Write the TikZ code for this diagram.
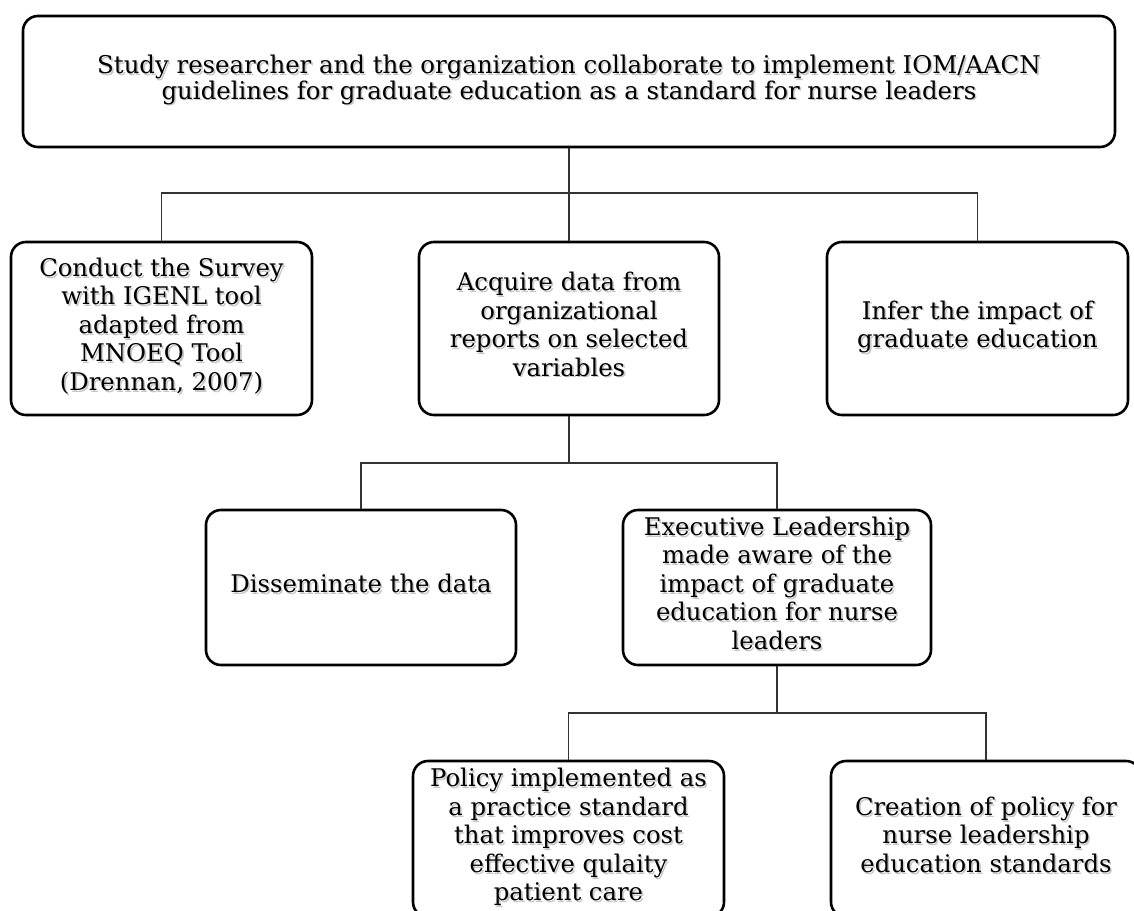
\documentclass[tikz,border=0pt]{standalone}
\usepackage{fontspec}
\setmainfont{DejaVu Serif}
\newcommand\topfont{\fontsize{24.4}{23}\selectfont}
\newcommand\rowfont{\fontsize{24.3}{28.5}\selectfont}
\newcommand\shadtext[1]{\leavevmode\rlap{\kern1.6pt\raisebox{-1.6pt}{\color{black!22}\begin{tabular}{@{}c@{}}#1\end{tabular}}}\begin{tabular}{@{}c@{}}#1\end{tabular}}
\begin{document}
\begin{tikzpicture}[x=1pt,y=-1pt,
  box/.style={draw=black, line width=2.6pt, rounded corners=15pt, fill=white, inner sep=0pt, font=\rowfont},
  link/.style={draw=black!80, line width=1.4pt}]
\useasboundingbox (0,0) rectangle (1134,910);
\clip (0,0) rectangle (1134,910);
\fill[white] (0,0) rectangle (1134,910);
% bar levels
\coordinate (bar1) at (0,193);
\coordinate (bar2) at (0,463);
\coordinate (bar3) at (0,713);
% nodes
\node[box, minimum width=1092pt, minimum height=131pt, font=\topfont] (top) at (569,81.5)
  {\shadtext{Study researcher and the organization collaborate to implement IOM/AACN\\guidelines for graduate education as a standard for nurse leaders}};
\node[box, minimum width=301pt, minimum height=173pt] (conduct) at (161.5,328.5)
  {\shadtext{Conduct the Survey\\with IGENL tool\\adapted from\\MNOEQ Tool\\(Drennan, 2007)}};
\node[box, minimum width=300pt, minimum height=173pt] (acquire) at (569,328.5)
  {\shadtext{Acquire data from\\organizational\\reports on selected\\variables}};
\node[box, minimum width=301pt, minimum height=173pt] (infer) at (977.5,328.5)
  {\shadtext{Infer the impact of\\graduate education}};
\node[box, minimum width=310pt, minimum height=155pt] (dissem) at (361,587.5)
  {\shadtext{Disseminate the data}};
\node[box, minimum width=308pt, minimum height=155pt] (exec) at (777,587.5)
  {\shadtext{Executive Leadership\\made aware of the\\impact of graduate\\education for nurse\\leaders}};
\node[box, minimum width=311pt, minimum height=156pt] (policy) at (568.5,839)
  {\shadtext{Policy implemented as\\a practice standard\\that improves cost\\effective qulaity\\patient care}};
\node[box, minimum width=310pt, minimum height=156pt] (creation) at (986,839)
  {\shadtext{Creation of policy for\\nurse leadership\\education standards}};
% connectors
\draw[link] (top.south) -- (top.south |- bar1);
\draw[link] (top.south |- bar1) -| (conduct.north);
\draw[link] (top.south |- bar1) -| (infer.north);
\draw[link] (top.south |- bar1) -- (acquire.north);
\draw[link] (acquire.south) -- (acquire.south |- bar2);
\draw[link] (acquire.south |- bar2) -| (dissem.north);
\draw[link] (acquire.south |- bar2) -| (exec.north);
\draw[link] (exec.south) -- (exec.south |- bar3);
\draw[link] (exec.south |- bar3) -| (policy.north);
\draw[link] (exec.south |- bar3) -| (creation.north);
\end{tikzpicture}
\end{document}
